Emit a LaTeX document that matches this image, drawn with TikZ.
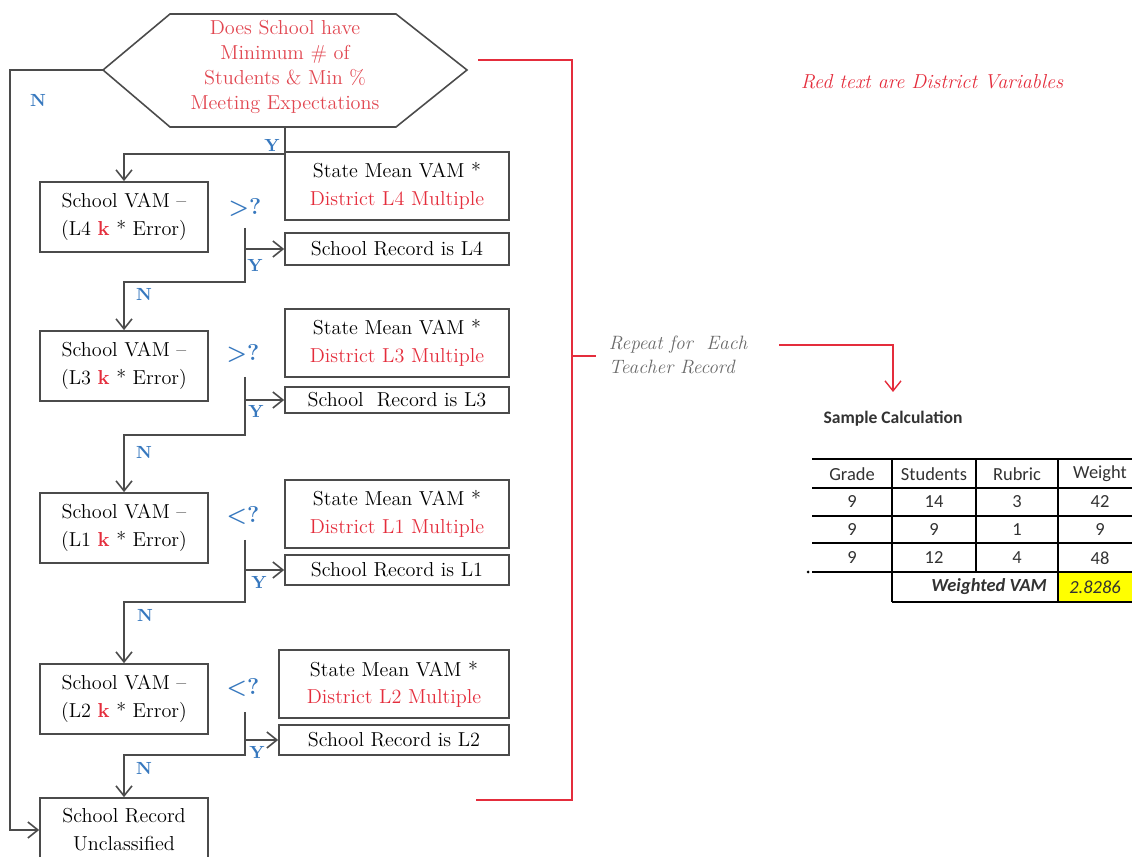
\documentclass[tikz,border=0pt]{standalone}
\usepackage{fontspec}
\newfontfamily\calibri{Carlito}
\usetikzlibrary{arrows.meta}

\definecolor{flowred}{RGB}{228,45,60}
\definecolor{hexred}{RGB}{225,70,80}
\definecolor{flowblue}{RGB}{55,120,190}
\definecolor{linegray}{RGB}{75,75,75}
\definecolor{notegray}{RGB}{105,105,105}
\definecolor{tabgray}{RGB}{50,50,50}
\definecolor{cellyellow}{RGB}{255,255,0}

\tikzset{
  vambox/.style={draw=linegray, line width=1pt, align=center, inner sep=0pt,
    minimum width=3.36cm, minimum height=1.4cm, font=\fontsize{11.5}{16}\selectfont},
  statebox/.style={draw=linegray, line width=1pt, align=center, inner sep=0pt,
    minimum width=4.48cm, minimum height=1.36cm, font=\fontsize{11.5}{15.5}\selectfont},
  recbox/.style={draw=linegray, line width=1pt, inner sep=0pt,
    minimum width=4.48cm, minimum height=0.6cm, font=\fontsize{11.5}{13}\selectfont},
  flow/.style={draw=linegray, line width=0.9pt},
  yn/.style={text=flowblue, font=\bfseries\fontsize{10}{12}\selectfont},
  cmp/.style={text=flowblue, font=\bfseries\fontsize{13}{14}\selectfont},
  tabcell/.style={text=tabgray, font=\calibri\fontsize{10.5}{12}\selectfont},
}

\begin{document}
\begin{tikzpicture}[x=0.02cm, y=-0.02cm, >={Straight Barb[length=2mm, width=3.2mm]}]
    \useasboundingbox (0,0) rectangle (1132,857);

    % question hexagon
    \coordinate (hexL) at (103,70);
    \coordinate (hexR) at (467,70);
    \coordinate (hexB) at (285,127);
    \draw[flow] (hexL) -- (170,14) -- (396,14) -- (hexR) -- (396,127) -- (hexB) -- (170,127) -- cycle;
    \node[align=center, text=hexred, font=\fontsize{11.5}{14.2}\selectfont] (ask) at (285,67)
      {Does School have\\Minimum \# of\\Students \& Min \%\\Meeting Expectations};

    % left column: school VAM tests
    \node[vambox] (vam4) at (124,217) {School VAM --\\(L4 \textcolor{flowred}{\textbf{k}} * Error)};
    \node[vambox] (vam3) at (124,366) {School VAM --\\(L3 \textcolor{flowred}{\textbf{k}} * Error)};
    \node[vambox] (vam1) at (124,528) {School VAM --\\(L1 \textcolor{flowred}{\textbf{k}} * Error)};
    \node[vambox] (vam2) at (124,699) {School VAM --\\(L2 \textcolor{flowred}{\textbf{k}} * Error)};
    \node[vambox, minimum height=1.28cm] (unc) at (124,830) {School Record\\Unclassified};

    % right column: state mean and records
    \node[statebox] (st4) at (397,186) {State Mean VAM *\\\textcolor{flowred}{District L4 Multiple}};
    \node[statebox] (st3) at (397,343) {State Mean VAM *\\\textcolor{flowred}{District L3 Multiple}};
    \node[statebox] (st1) at (397,514) {State Mean VAM *\\\textcolor{flowred}{District L1 Multiple}};
    \node[statebox, minimum width=4.6cm] (st2) at (394,684) {State Mean VAM *\\\textcolor{flowred}{District L2 Multiple}};
    \node[recbox, minimum height=0.64cm] (rec4) at (397,249) {School Record is L4};
    \node[recbox, minimum height=0.52cm] (rec3) at (397,400) {School\ \ Record is L3};
    \node[recbox] (rec1) at (397,570) {School Record is L1};
    \node[recbox, minimum width=4.6cm] (rec2) at (394,740) {School Record is L2};

    % comparisons
    \node[cmp] (cmp4) at (245,207) {>?};
    \node[cmp] (cmp3) at (243,353) {>?};
    \node[cmp] (cmp1) at (243,515) {<?};
    \node[cmp] (cmp2) at (243,687) {<?};

    % flow lines
    \draw[flow,->] (hexL) -- ++(-93,0) |- (unc.west); % no minimum
    \draw[flow,->] (hexB) -- ++(0,27) -| (vam4.north); % yes
    \coordinate (d4) at (245,228);
    \coordinate (d3) at (245,377);
    \coordinate (d1) at (245,540);
    \coordinate (d2) at (245,712);
    \draw[flow,->] (d4) -- ++(0,54) -| (vam3.north);
    \draw[flow,->] (d3) -- ++(0,58) -| (vam1.north);
    \draw[flow,->] (d1) -- ++(0,62) -| (vam2.north);
    \draw[flow,->] (d2) -- ++(0,43) -| (unc.north);
    \draw[flow,->] (d4 |- rec4.west) -- (rec4.west);
    \draw[flow,->] (d3 |- rec3.west) -- (rec3.west);
    \draw[flow,->] (d1 |- rec1.west) -- (rec1.west);
    \draw[flow,->] (d2 |- rec2.west) -- (rec2.west);

    % Y and N labels
    \node[yn] (yTop) at (272,145) {Y};
    \node[yn] (nTop) at (38,100) {N};
    \node[yn] (y4) at (255,265) {Y};
    \node[yn] (y3) at (256,411) {Y};
    \node[yn] (y1) at (259,582) {Y};
    \node[yn] (y2) at (257,752) {Y};
    \node[yn] (n4) at (144,294) {N};
    \node[yn] (n3) at (144,452) {N};
    \node[yn] (n1) at (145,615) {N};
    \node[yn] (n2) at (144,768) {N};

    % repeat bracket
    \draw[flowred, line width=0.8pt] (478,60) -- (572,60) -- (572,800) -- (476,800); % bracket
    \draw[flowred, line width=0.8pt] (572,356) -- (596,356); % tick
    \node[align=left, text=notegray, font=\itshape\fontsize{11}{14}\selectfont] (rep) at (678,355)
      {Repeat for\ \ Each\\Teacher Record};
    \coordinate (repStart) at (779,345);
    \coordinate (repEnd) at (893,392);
    \draw[flowred, line width=0.8pt, ->] (repStart) -| (repEnd);

    \node[text=flowred, font=\itshape\fontsize{11.5}{13}\selectfont] (note) at (932,82)
      {Red text are District Variables};

    % sample calculation table
    \node[text=tabgray, font=\calibri\bfseries\fontsize{10}{12}\selectfont] (samp) at (893,419) {Sample Calculation};
    \fill[cellyellow] (1058,572) rectangle (1132,602);
    \foreach \y in {459,488,516,543,572}
      \draw[black, line width=1.1pt] (812,\y) -- (1132,\y);
    \draw[black, line width=1.1pt] (892,602) -- (1132,602);
    \draw[black, line width=1pt] (892,459) -- (892,602);
    \draw[black, line width=1pt] (976,459) -- (976,572);
    \draw[black, line width=1pt] (1058,459) -- (1058,602);
    \fill[black] (808,572) circle (1.5);
    \node[tabcell] (hGrade) at (852,474) {Grade};
    \node[tabcell] (hStud) at (934,474) {Students};
    \node[tabcell] (hRub) at (1017,474) {Rubric};
    \node[tabcell] (hWt) at (1100,474) {Weight};
    \foreach \g/\s/\r/\w [count=\i] in {9/14/3/42, 9/9/1/9, 9/12/4/48} {
      \node[tabcell] (g\i) at (852,{474+28*\i}) {\g};
      \node[tabcell] (s\i) at (934,{474+28*\i}) {\s};
      \node[tabcell] (r\i) at (1017,{474+28*\i}) {\r};
      \node[tabcell] (w\i) at (1100,{474+28*\i}) {\w};
    }
    \node[tabcell, font=\calibri\bfseries\itshape\fontsize{10.5}{12}\selectfont, anchor=east] (wvam) at (1053,587) {Weighted VAM};
    \node[tabcell, font=\calibri\itshape\fontsize{10.5}{12}\selectfont] (wval) at (1095,587) {2.8286};
\end{tikzpicture}
\end{document}
